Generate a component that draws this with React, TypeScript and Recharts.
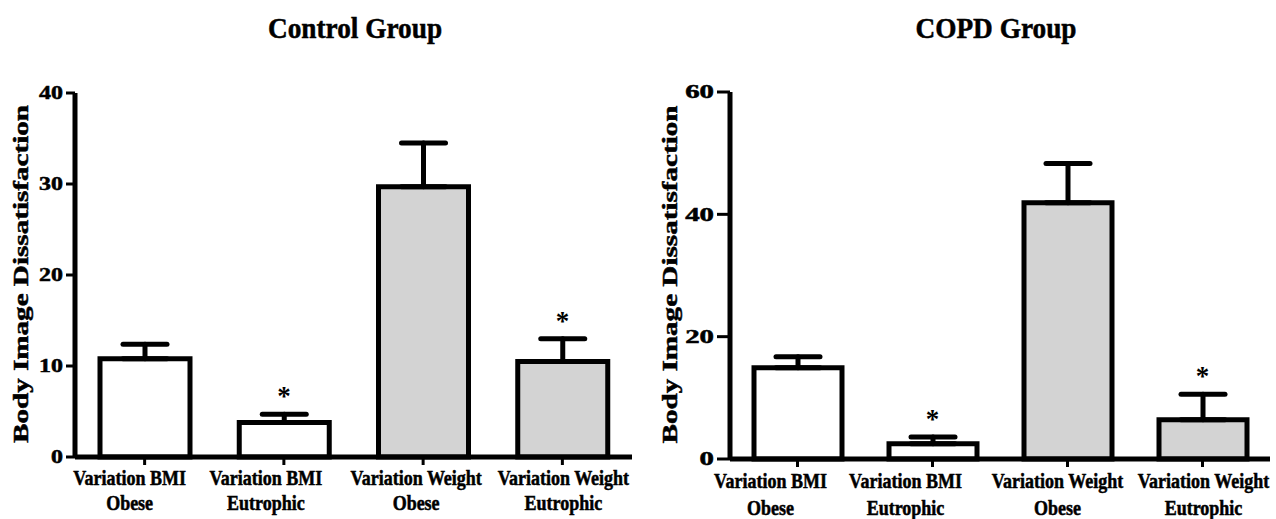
import React from 'react';
import { ComposedChart, Bar, XAxis, YAxis, ErrorBar, Line, Cell } from 'recharts';

const categories = [
  'Variation BMI\nObese',
  'Variation BMI\nEutrophic',
  'Variation Weight\nObese',
  'Variation Weight\nEutrophic',
];
const controlMean = [10.8, 3.8, 29.7, 10.5];
const controlSem = [1.6, 0.9, 4.8, 2.5];
const copdMean = [14.9, 2.5, 41.9, 6.4];
const copdSem = [1.8, 1.1, 6.4, 4.2];
const significance = ['', '*', '', '*'];
const controlTicks = [0, 10, 20, 30, 40];
const copdTicks = [0, 20, 40, 60];
const barFills = ['#ffffff', '#ffffff', '#d3d3d3', '#d3d3d3'];
const yLabelText = 'Body Image Dissatisfaction';
const titles = ['Control Group', 'COPD Group'];

const FONT = '"Liberation Serif", "Times New Roman", Times, serif';
const HEAVY = { stroke: '#000', strokeWidth: 0.5 };

const build = (mean: number[], sem: number[]) =>
  categories.map((c, i) => ({
    name: c,
    mean: mean[i],
    err: [0, sem[i]],
    cap: mean[i] + sem[i],
  }));

const controlData = build(controlMean, controlSem);
const copdData = build(copdMean, copdSem);

const makeXTick = (dxs: number[], l1: number, l2: number) => (props: any) => {
  const { x, y, payload, index } = props;
  const [a, b] = String(payload.value).split('\n');
  const dx = dxs[index] ?? 0;
  return (
    <g transform={`translate(${x + dx},${y}) scale(0.9,1)`}>
      <text x={0} y={l1} textAnchor="middle" fontFamily={FONT} fontSize={20} fontWeight="bold" fill="#000" {...HEAVY}>
        {a}
      </text>
      <text x={0} y={l2} textAnchor="middle" fontFamily={FONT} fontSize={20} fontWeight="bold" fill="#000" {...HEAVY}>
        {b}
      </text>
    </g>
  );
};

const makeYTick = (sx: number) => (props: any) => {
  const { x, y, payload } = props;
  return (
    <g transform={`translate(${x},${y}) scale(${sx},1)`}>
      <text x={0} y={0} dy="0.36em" textAnchor="end" fontFamily={FONT} fontSize={18} fontWeight="bold" fill="#000" {...HEAVY}>
        {payload.value}
      </text>
    </g>
  );
};

const makeYLabel = (bx: number) => (props: any) => {
  const vb = props.viewBox || {};
  const cx = (vb.x ?? 0) + bx;
  const cy = (vb.y ?? 0) + (vb.height ?? 0) / 2 - 1;
  return (
    <text
      x={cx}
      y={cy}
      transform={`rotate(-90, ${cx}, ${cy})`}
      textAnchor="middle"
      fontFamily={FONT}
      fontSize={22}
      fontWeight="bold"
      fill="#000"
      stroke="#000"
      strokeWidth={0.5}
      textLength={338}
      lengthAdjust="spacingAndGlyphs"
    >
      {yLabelText}
    </text>
  );
};

const renderStar = (props: any) => {
  const { x, y, index } = props;
  const s = significance[index];
  if (!s) return <g />;
  return (
    <text x={x} y={y - 9} textAnchor="middle" fontFamily={FONT} fontSize={27} fontWeight="bold" fill="#000">
      {s}
    </text>
  );
};

type PanelProps = {
  data: any[];
  ticks: number[];
  width: number;
  left: number;
  yAxisWidth: number;
  top: number;
  xAxisHeight: number;
  right: number;
  barSize: number;
  dxs: number[];
  l1: number;
  l2: number;
  labelX: number;
  yTickSize: number;
  yTickScale: number;
};

function Panel(p: PanelProps) {
  return (
    <div style={{ position: 'absolute', left: p.left, top: 0 }}>
      <ComposedChart
        width={p.width}
        height={519}
        data={p.data}
        margin={{ top: p.top, right: p.right, bottom: 0, left: 0 }}
      >
        <XAxis
          dataKey="name"
          interval={0}
          height={p.xAxisHeight}
          tickSize={8}
          tickMargin={2}
          axisLine={{ stroke: '#000', strokeWidth: 5 }}
          tickLine={{ stroke: '#000', strokeWidth: 3 }}
          tick={makeXTick(p.dxs, p.l1, p.l2)}
        />
        <YAxis
          width={p.yAxisWidth}
          domain={[0, p.ticks[p.ticks.length - 1]]}
          ticks={p.ticks}
          interval={0}
          tickSize={p.yTickSize}
          tickMargin={3}
          axisLine={{ stroke: '#000', strokeWidth: 5 }}
          tickLine={{ stroke: '#000', strokeWidth: 3 }}
          tick={makeYTick(p.yTickScale)}
          label={makeYLabel(p.labelX)}
        />
        <Bar dataKey="mean" barSize={p.barSize} stroke="#000" strokeWidth={5} isAnimationActive={false}>
          {p.data.map((_, i) => (
            <Cell key={i} fill={barFills[i]} />
          ))}
          <ErrorBar
            dataKey="err"
            direction="y"
            width={22}
            stroke="#000"
            strokeWidth={5}
            strokeLinecap="round"
            isAnimationActive={false}
          />
        </Bar>
        <Line
          dataKey="cap"
          stroke="none"
          dot={false}
          activeDot={false}
          legendType="none"
          isAnimationActive={false}
          label={renderStar}
        />
      </ComposedChart>
    </div>
  );
}

export default function App() {
  return (
    <div style={{ position: 'absolute', left: 0, top: 0, width: 1276, height: 519, background: '#fff' }}>
      <Panel
        data={controlData}
        ticks={controlTicks}
        width={640}
        left={0}
        yAxisWidth={75}
        top={93}
        xAxisHeight={62}
        right={8}
        barSize={90}
        dxs={[-15, -18, -7, 1]}
        l1={18}
        l2={43}
        labelX={28}
        yTickSize={9}
        yTickScale={1.33}
      />
      <Panel
        data={copdData}
        ticks={copdTicks}
        width={626}
        left={650}
        yAxisWidth={80}
        top={92}
        xAxisHeight={60}
        right={6}
        barSize={88}
        dxs={[-27, -27, -10, 1]}
        l1={19}
        l2={46}
        labelX={27}
        yTickSize={13}
        yTickScale={1.6}
      />
      <svg width={1276} height={60} style={{ position: 'absolute', left: 0, top: 0, pointerEvents: 'none' }}>
        <g transform="translate(355,38) scale(0.91,1)">
          <text x={0} y={0} textAnchor="middle" fontFamily={FONT} fontSize={30} fontWeight="bold" fill="#000" {...HEAVY}>
            {titles[0]}
          </text>
        </g>
        <g transform="translate(996,38) scale(0.91,1)">
          <text x={0} y={0} textAnchor="middle" fontFamily={FONT} fontSize={30} fontWeight="bold" fill="#000" {...HEAVY}>
            {titles[1]}
          </text>
        </g>
      </svg>
    </div>
  );
}
